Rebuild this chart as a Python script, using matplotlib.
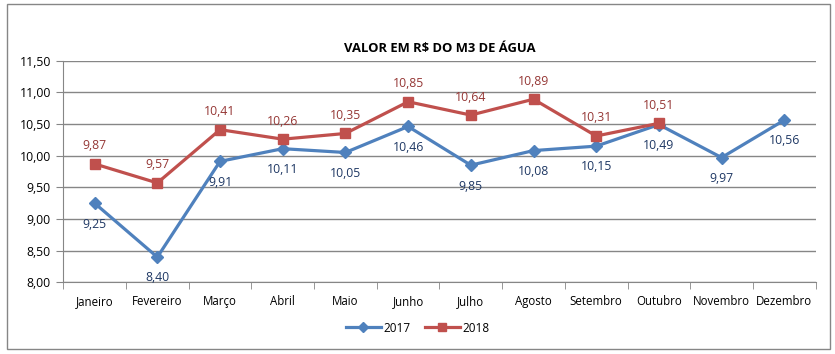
import numpy as np
import matplotlib.pyplot as plt
from matplotlib.patches import Rectangle

meses = ["Janeiro", "Fevereiro", "Março", "Abril", "Maio", "Junho",
         "Julho", "Agosto", "Setembro", "Outubro", "Novembro", "Dezembro"]
v2017 = [9.25, 8.40, 9.91, 10.11, 10.05, 10.46, 9.85, 10.08, 10.15, 10.49, 9.97, 10.56]
v2018 = [9.87, 9.57, 10.41, 10.26, 10.35, 10.85, 10.64, 10.89, 10.31, 10.51]
yticks = [8.0, 8.5, 9.0, 9.5, 10.0, 10.5, 11.0, 11.5]

azul = "#4F81BD"
vermelho = "#C0504D"
cinza = "#868686"

plt.rcParams['font.family'] = ['Open Sans', 'DejaVu Sans']

fig = plt.figure(figsize=(8.35, 3.54), dpi=100)
fig.patches.append(Rectangle((7/835, 1-349/354), 823/835, 345/354, transform=fig.transFigure,
                             fill=False, edgecolor=cinza, linewidth=1))
ax = fig.add_axes([0.0758, 0.202, 0.901, 0.627])

x = np.arange(len(meses))
x18 = np.arange(len(v2018))
ax.plot(x, v2017, color=azul, lw=2.3, marker="D", ms=6.5, label="2017", zorder=3)
ax.plot(x18, v2018, color=vermelho, lw=2.3, marker="s", ms=7, label="2018", zorder=3)

def fmt(v):
    return ("%.2f" % v).replace(".", ",")

for xi, v in zip(x, v2017):
    ax.annotate(fmt(v), (xi, v), xytext=(0, -15), textcoords="offset points",
                ha="center", va="center", fontsize=8.8, color="#1F3864")
for xi, v in zip(x18, v2018):
    ax.annotate(fmt(v), (xi, v), xytext=(0, 13), textcoords="offset points",
                ha="center", va="center", fontsize=8.8, color="#953735")

ax.set_xlim(-0.5, len(meses) - 0.5)
ax.set_ylim(8.0, 11.5)
ax.set_yticks(yticks)
ax.set_yticklabels([fmt(t) for t in yticks], fontsize=8.8)
ax.set_xticks(x)
ax.set_xticklabels(meses, fontsize=8.3)
ax.set_xticks(np.arange(-0.5, len(meses)), minor=True)
ax.tick_params(axis="x", which="major", length=0, pad=9)
ax.tick_params(axis="x", which="minor", length=5, color=cinza, direction="out")
ax.tick_params(axis="y", length=5, color=cinza, pad=4)
ax.grid(axis="y", color=cinza, lw=1)
ax.set_axisbelow(True)
for s in ["top", "right"]:
    ax.spines[s].set_visible(False)
ax.spines["left"].set_color(cinza)
ax.spines["bottom"].set_color(cinza)

ax.set_title("VALOR EM R$ DO M3 DE ÁGUA", fontsize=9.4, fontweight="bold", pad=6)

fig.legend(loc="center", bbox_to_anchor=(0.5, 1-328/354), ncol=2, frameon=False,
           fontsize=8.5, handlelength=3, columnspacing=1.2, handletextpad=0.2,
           markerscale=0.8)

fig.savefig("out.png", dpi=100)
